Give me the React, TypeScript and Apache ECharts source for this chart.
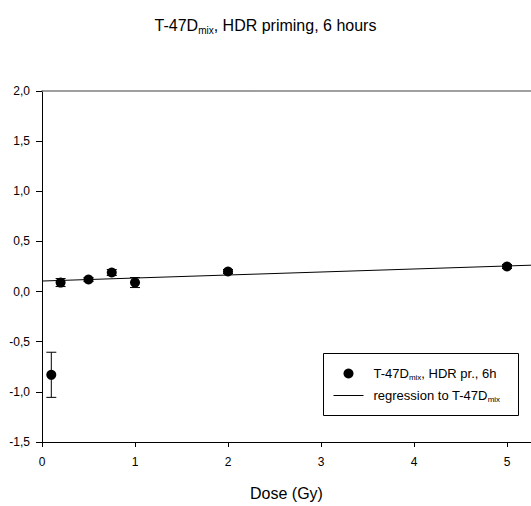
import React, { useEffect, useRef } from "react";
import * as echarts from "echarts";

const doses = [0.1, 0.2, 0.5, 0.75, 1.0, 2.0, 5.0];
const values = [-0.83, 0.09, 0.12, 0.19, 0.09, 0.2, 0.25];
const errors = [0.225, 0.04, 0.02, 0.03, 0.05, 0.02, 0.02];
const regressionX = [0, 5.26];
const regressionY = [0.105, 0.263];
const yTicks = [-1.5, -1.0, -0.5, 0.0, 0.5, 1.0, 1.5, 2.0];
const legendLabels = ["T-47D{sub|mix}, HDR pr., 6h", "regression to T-47D{sub|mix}"];

const FONT = "Liberation Sans, Arial, sans-serif";

export default function App() {
  const ref = useRef<HTMLDivElement>(null);
  useEffect(() => {
    if (!ref.current) return;
    const chart = echarts.init(ref.current, undefined, { renderer: "svg" });
    const pts = doses.map((d, i) => [d, values[i]]);
    const errData = doses.map((d, i) => [d, values[i] - errors[i], values[i] + errors[i]]);
    const regData = regressionX.map((x, i) => [x, regressionY[i]]);
    const legRich = {
      sub: { fontFamily: FONT, fontSize: 8, verticalAlign: "bottom", padding: [7, 0, 0, 0], fill: "#000", color: "#000" },
    };
    chart.setOption({
      animation: false,
      backgroundColor: "#fff",
      textStyle: { fontFamily: FONT },
      title: {
        text: "T-47D{sub|mix}, HDR priming, 6 hours",
        left: "center",
        top: 11,
        textStyle: {
          fontFamily: FONT,
          fontSize: 16,
          fontWeight: "normal",
          color: "#000",
          rich: {
            sub: { fontFamily: FONT, fontSize: 10, verticalAlign: "bottom", padding: [9, 0, 0, 0], color: "#000" },
          },
        },
      },
      grid: { left: 42, right: 0, top: 91, bottom: 61, containLabel: false },
      xAxis: [
        {
          type: "value",
          min: 0,
          max: 5.258,
          interval: 1,
          name: "Dose (Gy)",
          nameLocation: "middle",
          nameGap: 43,
          nameTextStyle: { fontFamily: FONT, fontSize: 16, color: "#000" },
          axisLine: { show: true, onZero: false, lineStyle: { color: "#000", width: 1 } },
          axisTick: { show: true, length: 5, inside: false, lineStyle: { color: "#000" } },
          axisLabel: {
            fontFamily: FONT,
            fontSize: 12,
            color: "#000",
            margin: 14,
            showMaxLabel: false,
            formatter: (v: number) => String(v),
          },
          splitLine: { show: false },
        },
        {
          type: "value",
          position: "top",
          min: 0,
          max: 5.258,
          axisLine: { show: true, onZero: false, lineStyle: { color: "#808080", width: 1.5 } },
          axisTick: { show: false },
          axisLabel: { show: false },
          splitLine: { show: false },
        },
      ],
      yAxis: {
        type: "value",
        min: -1.5,
        max: 2.0,
        interval: 0.5,
        axisLine: { show: true, onZero: false, lineStyle: { color: "#000", width: 1 } },
        axisTick: { show: true, length: 6, lineStyle: { color: "#000" } },
        axisLabel: {
          fontFamily: FONT,
          fontSize: 12,
          color: "#000",
          margin: 12,
          formatter: (v: number) => {
            const t = yTicks.find((y) => Math.abs(y - v) < 1e-9);
            return (t !== undefined ? t : v).toFixed(1).replace(".", ",");
          },
        },
        splitLine: { show: false },
      },
      graphic: [
        {
          type: "group",
          left: 323,
          top: 353,
          children: [
            { type: "rect", shape: { x: 0, y: 0, width: 195, height: 62 }, style: { fill: "#fff", stroke: "#000", lineWidth: 1 } },
            { type: "circle", shape: { cx: 25, cy: 20, r: 5 }, style: { fill: "#000" } },
            { type: "line", shape: { x1: 10, y1: 42, x2: 40, y2: 42 }, style: { stroke: "#000", lineWidth: 1 } },
            {
              type: "text",
              x: 50,
              y: 20,
              style: { text: legendLabels[0], font: `13px ${FONT}`, fill: "#000", verticalAlign: "middle", rich: legRich },
            },
            {
              type: "text",
              x: 50,
              y: 42,
              style: { text: legendLabels[1], font: `13px ${FONT}`, fill: "#000", verticalAlign: "middle", rich: legRich },
            },
          ],
        },
      ],
      series: [
        {
          name: "regression",
          type: "line",
          xAxisIndex: 0,
          data: regData,
          showSymbol: false,
          symbol: "none",
          lineStyle: { color: "#000", width: 1 },
          itemStyle: { color: "#000" },
          z: 2,
        },
        {
          name: "errbars",
          type: "custom",
          xAxisIndex: 0,
          data: errData,
          z: 3,
          renderItem: (params: any, api: any) => {
            const x = api.value(0);
            const lo = api.coord([x, api.value(1)]);
            const hi = api.coord([x, api.value(2)]);
            const w = 5;
            const style = { stroke: "#000", lineWidth: 1 };
            return {
              type: "group",
              children: [
                { type: "line", shape: { x1: lo[0], y1: lo[1], x2: hi[0], y2: hi[1] }, style },
                { type: "line", shape: { x1: lo[0] - w, y1: lo[1], x2: lo[0] + w, y2: lo[1] }, style },
                { type: "line", shape: { x1: hi[0] - w, y1: hi[1], x2: hi[0] + w, y2: hi[1] }, style },
              ],
            };
          },
        },
        {
          name: "points",
          type: "scatter",
          xAxisIndex: 0,
          data: pts,
          symbol: "circle",
          symbolSize: 10,
          itemStyle: { color: "#000", opacity: 1 },
          z: 4,
        },
      ],
    });
    return () => chart.dispose();
  }, []);
  return (
    <div
      ref={ref}
      style={{ position: "absolute", left: 0, top: 0, width: 531, height: 506, overflow: "hidden" }}
    />
  );
}
